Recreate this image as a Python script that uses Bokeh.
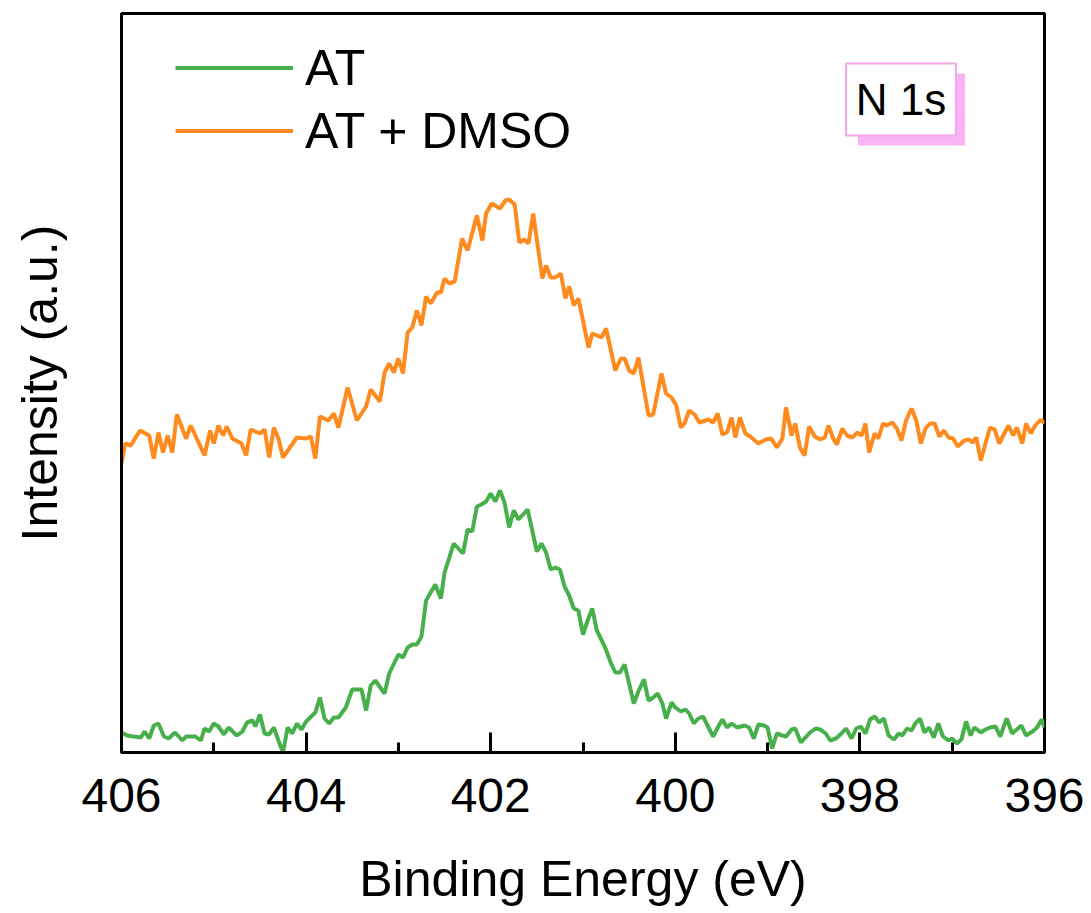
from bokeh.plotting import figure
from bokeh.models import Range1d, FixedTicker, Legend, LegendItem, BoxAnnotation, Label
from bokeh.embed import file_html
from bokeh.resources import INLINE

# ---------------- data ----------------
at_energy = [
    406.00, 405.94, 405.87, 405.79, 405.75, 405.70, 405.65, 405.60, 405.54, 405.49,
    405.42, 405.34, 405.30, 405.20, 405.14, 405.10, 405.05, 405.00, 404.95, 404.89,
    404.84, 404.75, 404.69, 404.64, 404.58, 404.55, 404.50, 404.45, 404.40, 404.35,
    404.30, 404.25, 404.20, 404.15, 404.10, 404.05, 404.00, 403.90, 403.85, 403.80,
    403.75, 403.70, 403.65, 403.57, 403.50, 403.40, 403.35, 403.30, 403.25, 403.15,
    403.10, 403.00, 402.95, 402.90, 402.85, 402.80, 402.75, 402.70, 402.65, 402.60,
    402.54, 402.50, 402.40, 402.30, 402.25, 402.20, 402.15, 402.10, 402.05, 402.00,
    401.95, 401.90, 401.85, 401.80, 401.75, 401.70, 401.60, 401.50, 401.45, 401.40,
    401.35, 401.30, 401.25, 401.20, 401.15, 401.10, 401.05, 401.00, 400.95, 400.90,
    400.85, 400.76, 400.70, 400.65, 400.60, 400.55, 400.50, 400.45, 400.40, 400.34,
    400.29, 400.24, 400.19, 400.14, 400.10, 400.04, 400.00, 399.94, 399.89, 399.85,
    399.80, 399.75, 399.70, 399.64, 399.59, 399.54, 399.49, 399.44, 399.39, 399.33,
    399.25, 399.20, 399.15, 399.10, 399.04, 399.00, 398.95, 398.90, 398.84, 398.80,
    398.74, 398.70, 398.64, 398.59, 398.54, 398.48, 398.43, 398.37, 398.32, 398.26,
    398.20, 398.15, 398.09, 398.04, 397.99, 397.94, 397.89, 397.84, 397.79, 397.74,
    397.69, 397.63, 397.58, 397.54, 397.49, 397.44, 397.40, 397.35, 397.30, 397.25,
    397.20, 397.15, 397.10, 397.04, 397.00, 396.95, 396.90, 396.85, 396.80, 396.76,
    396.69, 396.64, 396.59, 396.53, 396.48, 396.41, 396.35, 396.30, 396.25, 396.20,
    396.13, 396.08, 396.03, 396.00,
]
at_intensity = [
    20, 17, 16, 15, 21, 14, 27, 29, 16, 14,
    20, 12, 16, 16, 12, 24, 21, 29, 26, 18,
    25, 17, 21, 30, 32, 26, 38, 19, 18, 25,
    12, 0, 25, 19, 29, 23, 31, 40, 55, 34,
    29, 35, 35, 45, 63, 63, 42, 67, 72, 59,
    79, 98, 95, 105, 108, 108, 116, 152, 160, 168,
    154, 180, 209, 199, 223, 221, 246, 248, 251, 259,
    251, 262, 250, 225, 242, 233, 243, 201, 209, 200,
    183, 185, 183, 166, 157, 144, 142, 118, 132, 144,
    122, 105, 90, 80, 80, 88, 69, 49, 61, 73,
    52, 55, 59, 49, 34, 50, 45, 41, 43, 39,
    29, 34, 36, 25, 16, 25, 33, 25, 29, 25,
    27, 25, 14, 28, 27, 25, 4, 19, 17, 16,
    23, 24, 10, 15, 20, 24, 23, 19, 12, 14,
    19, 24, 14, 24, 26, 19, 33, 36, 30, 34,
    17, 13, 19, 17, 24, 22, 29, 34, 20, 25,
    15, 29, 16, 12, 14, 9, 13, 31, 17, 25,
    20, 23, 25, 26, 16, 34, 19, 23, 27, 17,
    21, 25, 33, 25,
]

dmso_energy = [
    406.00, 405.96, 405.90, 405.80, 405.70, 405.65, 405.60, 405.55, 405.50, 405.45,
    405.40, 405.30, 405.25, 405.20, 405.10, 405.04, 405.00, 404.95, 404.90, 404.86,
    404.80, 404.70, 404.65, 404.60, 404.50, 404.45, 404.40, 404.35, 404.30, 404.25,
    404.10, 404.00, 403.95, 403.90, 403.85, 403.76, 403.70, 403.65, 403.55, 403.45,
    403.35, 403.30, 403.20, 403.15, 403.10, 403.05, 403.00, 402.95, 402.90, 402.85,
    402.80, 402.75, 402.70, 402.65, 402.58, 402.54, 402.50, 402.45, 402.39, 402.31,
    402.25, 402.15, 402.09, 402.05, 401.99, 401.90, 401.84, 401.80, 401.74, 401.69,
    401.64, 401.59, 401.54, 401.44, 401.40, 401.35, 401.30, 401.24, 401.19, 401.15,
    401.10, 401.05, 400.94, 400.90, 400.80, 400.75, 400.65, 400.59, 400.55, 400.50,
    400.45, 400.40, 400.29, 400.24, 400.15, 400.10, 400.04, 399.99, 399.94, 399.90,
    399.85, 399.79, 399.74, 399.64, 399.59, 399.54, 399.49, 399.44, 399.39, 399.35,
    399.30, 399.24, 399.19, 399.10, 399.02, 398.96, 398.90, 398.84, 398.80, 398.74,
    398.70, 398.65, 398.60, 398.55, 398.49, 398.43, 398.38, 398.34, 398.29, 398.25,
    398.19, 398.14, 398.08, 398.03, 397.98, 397.94, 397.90, 397.84, 397.80, 397.75,
    397.71, 397.65, 397.60, 397.55, 397.50, 397.44, 397.39, 397.34, 397.29, 397.24,
    397.19, 397.14, 397.09, 397.04, 396.99, 396.94, 396.87, 396.82, 396.78, 396.74,
    396.69, 396.64, 396.59, 396.54, 396.49, 396.43, 396.39, 396.34, 396.30, 396.24,
    396.20, 396.15, 396.10, 396.04, 396.00,
]
dmso_intensity = [
    289, 309, 307, 322, 317, 294, 320, 300, 317, 300,
    338, 314, 327, 317, 297, 322, 309, 327, 317, 326,
    314, 309, 297, 323, 319, 323, 295, 325, 314, 295,
    315, 314, 316, 294, 336, 332, 339, 325, 365, 332,
    346, 363, 351, 380, 389, 380, 394, 379, 420, 425,
    442, 427, 456, 449, 460, 460, 474, 469, 471, 514,
    502, 537, 512, 539, 549, 544, 552, 553, 548, 510,
    513, 509, 539, 474, 487, 475, 475, 479, 454, 466,
    447, 454, 405, 419, 415, 424, 382, 394, 394, 382,
    379, 395, 337, 338, 379, 359, 355, 347, 325, 329,
    342, 338, 330, 333, 330, 339, 318, 320, 335, 315,
    335, 319, 316, 309, 313, 314, 305, 314, 345, 317,
    329, 305, 297, 326, 316, 313, 315, 327, 314, 308,
    324, 317, 315, 320, 317, 329, 300, 319, 314, 329,
    327, 330, 324, 312, 332, 344, 332, 309, 324, 329,
    329, 316, 322, 315, 314, 306, 312, 313, 310, 315,
    292, 309, 325, 323, 309, 320, 327, 317, 325, 309,
    329, 319, 327, 333, 329,
]

series_labels = ["AT", "AT + DMSO"]
x_ticks = [406, 404, 402, 400, 398, 396]
x_minor_ticks = [405, 403, 401, 399, 397]
panel_text = "N 1s"

GREEN = "#47B04B"
ORANGE = "#FF8A1E"
FONT = "Liberation Sans"

p = figure(width=1091, height=913, output_backend="svg", toolbar_location=None,
           x_range=Range1d(406, 396), y_range=Range1d(0, 739),
           min_border_left=121, min_border_right=47, min_border_top=13,
           min_border_bottom=161)
p.background_fill_color = "white"
p.border_fill_color = "white"
p.xgrid.visible = False
p.ygrid.visible = False
p.outline_line_color = "black"
p.outline_line_width = 3

r_at = p.line(at_energy, at_intensity, line_color=GREEN, line_width=4)
r_dm = p.line(dmso_energy, dmso_intensity, line_color=ORANGE, line_width=4)

xa = p.xaxis[0]
xa.ticker = FixedTicker(ticks=x_ticks, minor_ticks=x_minor_ticks)
xa.axis_line_width = 3
xa.major_tick_line_width = 3
xa.minor_tick_line_width = 3
xa.major_tick_in = 20
xa.major_tick_out = 0
xa.minor_tick_in = 10
xa.minor_tick_out = 0
xa.major_label_text_font = FONT
xa.major_label_text_font_size = "48px"
xa.major_label_text_color = "black"
xa.major_label_standoff = 26
xa.axis_label = "Binding Energy (eV)"
xa.axis_label_text_font = FONT
xa.axis_label_text_font_size = "50px"
xa.axis_label_text_font_style = "normal"
xa.axis_label_text_color = "black"
xa.axis_label_standoff = 36

ya = p.yaxis[0]
ya.ticker = FixedTicker(ticks=[])
ya.axis_line_width = 3
ya.major_tick_line_color = None
ya.minor_tick_line_color = None
ya.major_label_text_font_size = "0px"
ya.axis_label = "Intensity (a.u.)"
ya.axis_label_text_font = FONT
ya.axis_label_text_font_size = "50px"
ya.axis_label_text_font_style = "normal"
ya.axis_label_text_color = "black"
ya.axis_label_standoff = 54

legend = Legend(items=[LegendItem(label=series_labels[0], renderers=[r_at]),
                       LegendItem(label=series_labels[1], renderers=[r_dm])],
                location=(54, 590), orientation="vertical")
legend.border_line_alpha = 0
legend.background_fill_alpha = 0
legend.padding = 0
legend.margin = 0
legend.spacing = 0
legend.glyph_width = 118
legend.glyph_height = 63
legend.label_height = 63
legend.label_standoff = 12
legend.label_text_font = FONT
legend.label_text_font_size = "50px"
legend.label_text_color = "black"
p.add_layout(legend)

shadow = BoxAnnotation(left=398.02, right=396.86, bottom=607, top=679,
                       fill_color="#F8B4F3", fill_alpha=1, line_alpha=0)
box = BoxAnnotation(left=398.15, right=396.96, bottom=617, top=689,
                    fill_color="white", fill_alpha=1, line_color="#EFA6EB",
                    line_alpha=1, line_width=2)
p.add_layout(shadow)
p.add_layout(box)
p.add_layout(Label(x=397.555, y=653, text=panel_text, text_align="center",
                   text_baseline="middle", text_font=FONT, text_font_size="44px",
                   text_color="black"))

open("out.html", "w").write(file_html(p, INLINE))
